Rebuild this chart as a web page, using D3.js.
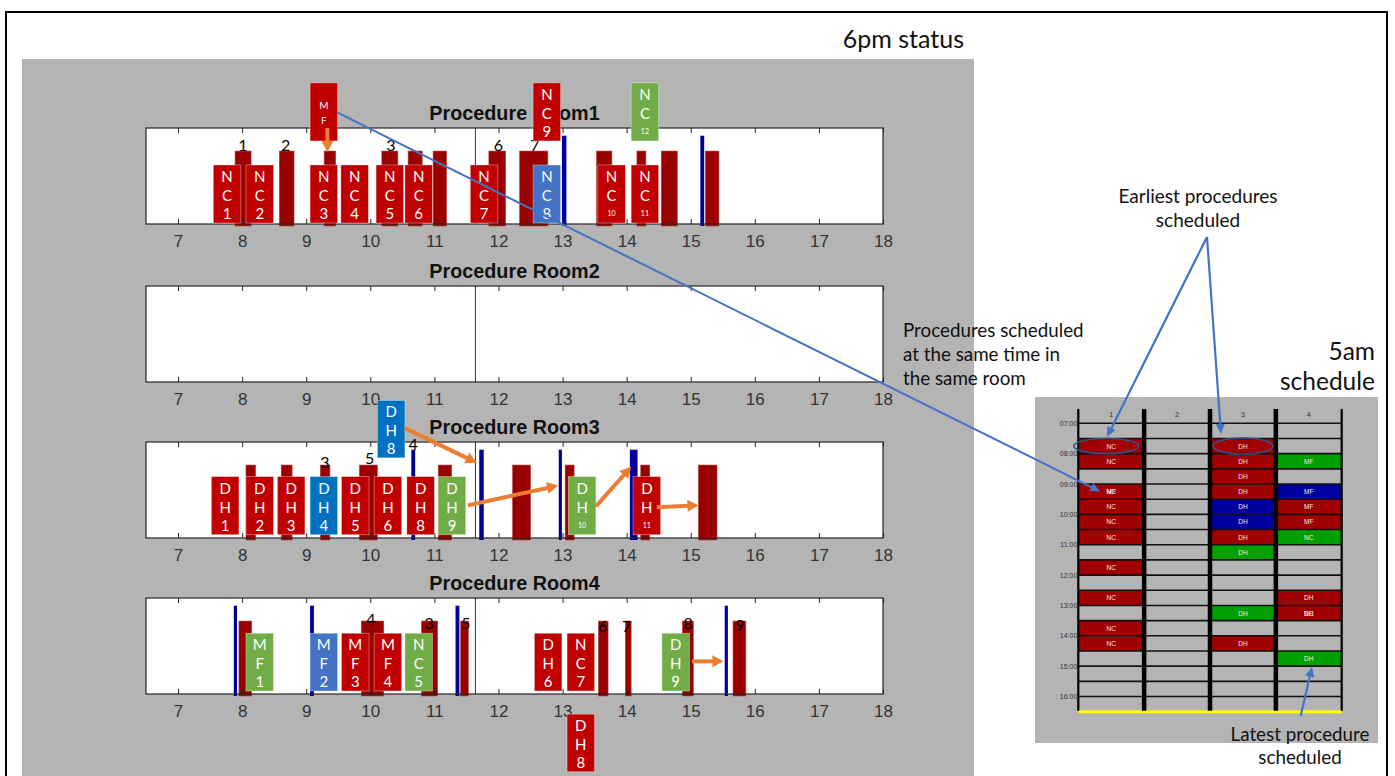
<!DOCTYPE html>
<html>
<head>
<meta charset="utf-8">
<script src="https://cdn.jsdelivr.net/npm/d3@7"></script>
<style>
  body { margin: 0; background: #fff; }
  svg { display: block; }
</style>
</head>
<body>
<div id="chart"></div>
<script>
// ---- values ----
const hours = [7, 8, 9, 10, 11, 12, 13, 14, 15, 16, 17, 18];
const roomNames = ["Procedure Room1", "Procedure Room2", "Procedure Room3", "Procedure Room4"];
const nowHour = 11.64;

// performed procedures (dark red bars), [start, end] in hours
const room1Bars = [[7.89, 8.14], [8.58, 8.81], [9.28, 9.46], [10.18, 10.43], [10.59, 10.81], [10.98, 11.19],
                   [11.85, 12.11], [12.33, 12.77], [13.53, 13.77], [14.16, 14.30], [14.54, 14.79], [15.23, 15.44]];
const room2Bars = [];
const room3Bars = [[8.06, 8.21], [8.61, 8.78], [9.22, 9.37], [9.83, 10.11], [11.06, 11.27], [12.22, 12.50],
                   [13.04, 13.18], [14.22, 14.36], [15.12, 15.41]];
const room4Bars = [[7.95, 8.15], [9.86, 10.21], [10.80, 11.05], [11.41, 11.53], [13.56, 13.71], [13.98, 14.07],
                   [14.87, 15.04], [15.66, 15.86]];

// blue markers, [start, end]
const room1Marks = [[12.99, 13.06], [15.15, 15.21]];
const room2Marks = [];
const room3Marks = [[10.64, 10.70], [11.70, 11.77], [12.94, 12.99], [14.05, 14.17]];
const room4Marks = [[7.87, 7.92], [9.06, 9.12], [11.33, 11.39], [15.53, 15.58]];

// procedure numbers, [label, hour, height]
const room1Nums = [["1", 8.01, 0.83], ["2", 8.68, 0.83], ["3", 10.32, 0.83], ["6", 12.0, 0.83], ["7", 12.57, 0.83]];
const room2Nums = [];
const room3Nums = [["3", 9.29, 0.80], ["5", 9.99, 0.835], ["4", 10.67, 0.98]];
const room4Nums = [["4", 10.01, 0.79], ["3", 10.92, 0.74], ["5", 11.49, 0.74], ["6", 13.63, 0.71],
                   ["7", 14.0, 0.71], ["8", 14.96, 0.75], ["9", 15.77, 0.72]];

// scheduled cards, [text, start hour, bottom, top, colour]
const room1Cards = [["NC1", 7.55, 0.01, 0.615, "red"], ["NC2", 8.06, 0.01, 0.615, "red"], ["NC3", 9.06, 0.01, 0.615, "red"],
                    ["NC4", 9.54, 0.01, 0.615, "red"], ["NC5", 10.09, 0.01, 0.615, "red"], ["NC6", 10.54, 0.01, 0.615, "red"],
                    ["NC7", 11.56, 0.01, 0.615, "red"], ["NC8", 12.54, 0.01, 0.615, "blue"], ["NC10", 13.55, 0.01, 0.615, "red"],
                    ["NC11", 14.07, 0.01, 0.615, "red"], ["NC9", 12.54, 0.865, 1.47, "red"], ["NC12", 14.07, 0.865, 1.47, "green"],
                    ["MF", 9.06, 0.865, 1.47, "red"]];
const room2Cards = [];
const room3Cards = [["DH1", 7.52, 0.034, 0.64, "red"], ["DH2", 8.06, 0.034, 0.64, "red"], ["DH3", 8.55, 0.034, 0.64, "red"],
                    ["DH4", 9.06, 0.034, 0.64, "azure"], ["DH5", 9.55, 0.034, 0.64, "red"], ["DH6", 10.06, 0.034, 0.64, "red"],
                    ["DH8", 10.57, 0.034, 0.64, "red"], ["DH9", 11.06, 0.034, 0.64, "green"], ["DH10", 13.09, 0.034, 0.64, "green"],
                    ["DH11", 14.10, 0.034, 0.64, "red"], ["DH8", 10.11, 0.835, 1.433, "azure"]];
const room4Cards = [["MF1", 8.06, 0.031, 0.633, "green"], ["MF2", 9.06, 0.031, 0.633, "blue"], ["MF3", 9.55, 0.031, 0.633, "red"],
                    ["MF4", 10.06, 0.031, 0.633, "red"], ["NC5", 10.54, 0.031, 0.633, "green"], ["DH6", 12.56, 0.031, 0.633, "red"],
                    ["NC7", 13.07, 0.031, 0.633, "red"], ["DH9", 14.55, 0.031, 0.633, "green"], ["DH8", 13.07, -0.81, -0.21, "red"]];

// moves (orange arrows), [x1, y1, x2, y2]
const room1Moves = [[9.33, 1.0, 9.33, 0.75]];
const room2Moves = [];
const room3Moves = [[10.54, 1.144, 11.66, 0.784], [11.52, 0.34, 12.93, 0.546], [13.52, 0.33, 14.07, 0.742], [14.47, 0.32, 15.12, 0.34]];
const room4Moves = [[15.02, 0.34, 15.51, 0.34]];

// 5am schedule
const schedCols = ["1", "2", "3", "4"];
const schedHours = [7, 8, 9, 10, 11, 12, 13, 14, 15, 16];
const schedCells = [
  ["1", 7.5, "NC", "r"], ["1", 8.0, "NC", "r"], ["1", 9.0, "NC", "r"], ["1", 9.0, "MF", "r"], ["1", 9.5, "NC", "r"],
  ["1", 10.0, "NC", "r"], ["1", 10.5, "NC", "r"], ["1", 11.5, "NC", "r"], ["1", 12.5, "NC", "r"], ["1", 13.5, "NC", "r"],
  ["1", 14.0, "NC", "r"],
  ["3", 7.5, "DH", "r"], ["3", 8.0, "DH", "r"], ["3", 8.5, "DH", "r"], ["3", 9.0, "DH", "r"], ["3", 9.5, "DH", "b"],
  ["3", 10.0, "DH", "b"], ["3", 10.5, "DH", "r"], ["3", 11.0, "DH", "g"], ["3", 13.0, "DH", "g"], ["3", 14.0, "DH", "r"],
  ["4", 8.0, "MF", "g"], ["4", 9.0, "MF", "b"], ["4", 9.5, "MF", "r"], ["4", 10.0, "MF", "r"], ["4", 10.5, "NC", "g"],
  ["4", 12.5, "DH", "r"], ["4", 13.0, "DH", "r"], ["4", 13.0, "NC", "r"], ["4", 14.5, "DH", "g"]
];

const allBars = [room1Bars, room2Bars, room3Bars, room4Bars];
const allMarks = [room1Marks, room2Marks, room3Marks, room4Marks];
const allNums = [room1Nums, room2Nums, room3Nums, room4Nums];
const allCards = [room1Cards, room2Cards, room3Cards, room4Cards];
const allMoves = [room1Moves, room2Moves, room3Moves, room4Moves];

const cardColor = { red: "#c00000", green: "#70ad47", blue: "#4472c4", azure: "#0070c0" };
const cellColor = { r: "#a00000", g: "#00a000", b: "#0000a0" };

const W = 1395, H = 776;
const svg = d3.select("#chart").append("svg").attr("width", W).attr("height", H);

// frame + grey backgrounds
svg.append("path").attr("d", "M6,776 V12 H1387 V776").attr("fill", "none").attr("stroke", "#000").attr("stroke-width", 2);
svg.append("rect").attr("x", 22).attr("y", 59).attr("width", 952).attr("height", H - 59).attr("fill", "#b4b4b4");
svg.append("rect").attr("x", 1035).attr("y", 397).attr("width", 343).attr("height", 346).attr("fill", "#b4b4b4");

function arrow(g, x1, y1, x2, y2, color, w, len, hw) {
  const dx = x2 - x1, dy = y2 - y1, d = Math.sqrt(dx * dx + dy * dy);
  const ux = dx / d, uy = dy / d;
  const bx = x2 - ux * len, by = y2 - uy * len;
  g.append("line").attr("x1", x1).attr("y1", y1).attr("x2", bx + ux).attr("y2", by + uy)
    .attr("stroke", color).attr("stroke-width", w);
  g.append("path")
    .attr("d", "M" + x2 + "," + y2 + "L" + (bx - uy * hw / 2) + "," + (by + ux * hw / 2) +
               "L" + (bx + uy * hw / 2) + "," + (by - ux * hw / 2) + "Z")
    .attr("fill", color);
}

const x = d3.scaleLinear().domain([6.5, 18]).range([146, 883]);
const roomTops = [128, 286, 442, 598];
const plotH = 96;
const yScales = [];

roomNames.forEach(function(name, i) {
  const top = roomTops[i];
  const y = d3.scaleLinear().domain([0, 1]).range([top + plotH, top]);
  yScales.push(y);
  const g = svg.append("g");

  g.append("rect").attr("x", x(6.5)).attr("y", top).attr("width", x(18) - x(6.5)).attr("height", plotH).attr("fill", "#fff");
  g.append("line").attr("x1", x(nowHour)).attr("x2", x(nowHour)).attr("y1", top).attr("y2", top + plotH)
    .attr("stroke", "#333").attr("stroke-width", 1);

  g.selectAll(".bar").data(allBars[i]).enter().append("rect")
    .attr("x", d => x(d[0])).attr("width", d => x(d[1]) - x(d[0]))
    .attr("y", y(0.76)).attr("height", y(0) - y(0.76) + 2)
    .attr("fill", "#990000").attr("stroke", "#b54040").attr("stroke-width", 0.6);

  g.selectAll(".mark").data(allMarks[i]).enter().append("rect")
    .attr("x", d => x(d[0])).attr("width", d => x(d[1]) - x(d[0]))
    .attr("y", y(0.92)).attr("height", y(0) - y(0.92) + 2)
    .attr("fill", "#00009c");

  g.append("rect").attr("x", x(6.5)).attr("y", top).attr("width", x(18) - x(6.5)).attr("height", plotH)
    .attr("fill", "none").attr("stroke", "#262626").attr("stroke-width", 1.2);

  const bottomAxis = g.append("g").attr("transform", "translate(0," + (top + plotH) + ")")
    .call(d3.axisBottom(x).tickValues(hours).tickSize(-5).tickPadding(11));
  const topAxis = g.append("g").attr("transform", "translate(0," + top + ")")
    .call(d3.axisTop(x).tickValues(hours).tickSize(-5).tickFormat(""));
  [bottomAxis, topAxis].forEach(function(a) {
    a.select(".domain").remove();
    a.selectAll("line").attr("stroke", "#262626");
  });
  bottomAxis.selectAll("text").attr("font-family", "Liberation Sans, Arial, sans-serif")
    .attr("font-size", 17).attr("fill", "#333");

  g.selectAll(".num").data(allNums[i]).enter().append("text")
    .attr("x", d => x(d[1])).attr("y", d => y(d[2]))
    .attr("text-anchor", "middle").attr("dominant-baseline", "central")
    .attr("font-family", "Lato, sans-serif").attr("font-size", 16).attr("fill", "#000")
    .text(d => d[0]);

  g.append("text").attr("x", (x(6.5) + x(18)) / 2).attr("y", top - 8)
    .attr("text-anchor", "middle").attr("font-family", "Liberation Sans, Arial, sans-serif")
    .attr("font-weight", "bold").attr("font-size", 19.8).attr("fill", "#111")
    .text(name);
});

// cards and moves on top of all rooms
const cardW = 0.43;
roomNames.forEach(function(name, i) {
  const y = yScales[i];
  const g = svg.append("g");
  allCards[i].forEach(function(c) {
    const cx = x(c[1]), cw = x(c[1] + cardW) - x(c[1]);
    const ct = y(c[3]), ch = y(c[2]) - y(c[3]);
    g.append("rect").attr("x", cx).attr("y", ct).attr("width", cw).attr("height", ch)
      .attr("fill", cardColor[c[4]]).attr("stroke", "#fff").attr("stroke-opacity", 0.5).attr("stroke-width", 0.7);
    const t = c[0];
    const txt = g.append("g").attr("fill", "#fff").attr("font-family", "Lato, sans-serif").attr("text-anchor", "middle");
    if (t.length === 2) {
      txt.append("text").attr("x", cx + cw / 2).attr("y", ct + ch / 2 - 7).attr("dominant-baseline", "central")
        .attr("font-size", 10).text(t[0]);
      txt.append("text").attr("x", cx + cw / 2).attr("y", ct + ch / 2 + 8).attr("dominant-baseline", "central")
        .attr("font-size", 10).text(t[1]);
    } else {
      const n = t.slice(2);
      txt.append("text").attr("x", cx + cw / 2).attr("y", ct + 11).attr("dominant-baseline", "central")
        .attr("font-size", 15).text(t[0]);
      txt.append("text").attr("x", cx + cw / 2).attr("y", ct + 30).attr("dominant-baseline", "central")
        .attr("font-size", 15).text(t[1]);
      txt.append("text").attr("x", cx + cw / 2).attr("y", ct + 48).attr("dominant-baseline", "central")
        .attr("font-size", n.length > 1 ? 7 : 15).text(n);
    }
  });
  allMoves[i].forEach(function(m) {
    arrow(g, x(m[0]), y(m[1]), x(m[2]), y(m[3]), "#ed7d31", 4, 11, 12);
  });
});

// ---- 5am schedule grid ----
const sy = d3.scaleLinear().domain([7, 16.5]).range([423.3, 711.7]);
const sx = d3.scaleBand().domain(schedCols).range([1078.3, 1341.7]);
const sg = svg.append("g");
const slot = sy(7.5) - sy(7);

sg.selectAll(".cell").data(schedCells).enter().append("rect")
  .attr("x", d => sx(d[0])).attr("width", sx.bandwidth())
  .attr("y", d => sy(d[1])).attr("height", slot)
  .attr("fill", d => cellColor[d[3]]);
sg.selectAll(".clab").data(schedCells).enter().append("text")
  .attr("x", d => sx(d[0]) + sx.bandwidth() / 2).attr("y", d => sy(d[1] + 0.25))
  .attr("text-anchor", "middle").attr("dominant-baseline", "central")
  .attr("font-family", "Liberation Sans, Arial, sans-serif").attr("font-size", 6.5).attr("fill", "#f4e8e8")
  .text(d => d[2]);

const halfHours = d3.range(7, 16.01, 0.5);
sg.selectAll(".hl").data(halfHours).enter().append("line")
  .attr("x1", sx.range()[0]).attr("x2", sx.range()[1])
  .attr("y1", d => sy(d)).attr("y2", d => sy(d))
  .attr("stroke", "#111").attr("stroke-width", 1.6);
sg.append("line").attr("x1", sx.range()[0]).attr("x2", sx.range()[1])
  .attr("y1", sy(16.5)).attr("y2", sy(16.5)).attr("stroke", "#ffff00").attr("stroke-width", 3);

const edges = schedCols.map(c => sx(c)).concat([sx.range()[1]]);
sg.selectAll(".vl").data(edges).enter().append("line")
  .attr("x1", d => d).attr("x2", d => d).attr("y1", 409).attr("y2", sy(16.5) - 1)
  .attr("stroke", "#000").attr("stroke-width", (d, k) => (k === 0 || k === edges.length - 1) ? 2.2 : 4.5);

sg.selectAll(".ch").data(schedCols).enter().append("text")
  .attr("x", d => sx(d) + sx.bandwidth() / 2).attr("y", 414)
  .attr("text-anchor", "middle").attr("dominant-baseline", "central")
  .attr("font-family", "Liberation Sans, Arial, sans-serif").attr("font-size", 7).attr("fill", "#333")
  .text(d => d);
sg.selectAll(".tl").data(schedHours).enter().append("text")
  .attr("x", sx.range()[0] - 1).attr("y", d => sy(d))
  .attr("text-anchor", "end").attr("dominant-baseline", "central")
  .attr("font-family", "Liberation Sans, Arial, sans-serif").attr("font-size", 7).attr("fill", "#333")
  .text(d => d3.format("02d")(d) + ":00");

// circled earliest procedures
sg.append("ellipse").attr("cx", sx("1") + sx.bandwidth() / 2 - 5).attr("cy", sy(7.75)).attr("rx", 32.5).attr("ry", 7.5)
  .attr("fill", "none").attr("stroke", "#2f528f").attr("stroke-width", 1.6);
sg.append("ellipse").attr("cx", sx("3") + sx.bandwidth() / 2).attr("cy", sy(7.75)).attr("rx", 30).attr("ry", 8)
  .attr("fill", "none").attr("stroke", "#2f528f").attr("stroke-width", 1.6);

// ---- annotations ----
const ag = svg.append("g");
const annBlue = "#4472c4";
arrow(ag, x(9.49), yScales[0](1.16), sx("1") + 22, sy(9.25), annBlue, 2, 10, 9);
arrow(ag, 1207, 237, 1107, 437, annBlue, 2.2, 10, 9);
arrow(ag, 1207, 237, 1221, 434, annBlue, 2.2, 10, 9);
arrow(ag, 1300.7, 716, 1312, 666.7, annBlue, 2.2, 10, 9);

function label(lines, xx, y0, dy, size, anchor) {
  lines.forEach(function(s, k) {
    ag.append("text").attr("x", xx).attr("y", y0 + k * dy).attr("text-anchor", anchor)
      .attr("font-family", "Lato, sans-serif").attr("font-size", size).attr("fill", "#111").text(s);
  });
}
label(["6pm status"], 964, 48, 0, 25, "end");
label(["Earliest procedures", "scheduled"], 1198, 203, 24, 19, "middle");
label(["Procedures scheduled", "at the same time in", "the same room"], 903, 337, 24, 18.8, "start");
label(["5am", "schedule"], 1375, 360, 30, 24.5, "end");
label(["Latest procedure", "scheduled"], 1300, 741, 23, 18.8, "middle");
</script>
</body>
</html>
